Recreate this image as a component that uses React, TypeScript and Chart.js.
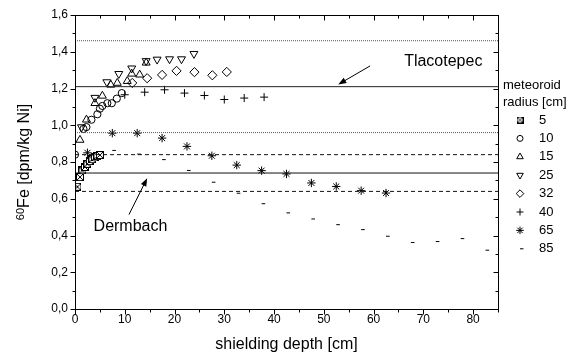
import React, { useEffect, useRef } from 'react';
import { Chart, registerables } from 'chart.js';
import { drawPoint } from 'chart.js/helpers';

Chart.register(...registerables);

// ---- data ----
const depth5 = [0.5, 1, 1.5, 2, 2.5, 3, 3.5, 4, 4.5, 5];
const fe5 = [0.665, 0.718, 0.754, 0.773, 0.79, 0.805, 0.815, 0.825, 0.832, 0.838];

const depth10 = [0, 1.7, 2.3, 3.3, 4.5, 5, 5.5, 6.5, 7.4, 8.4, 9.4];
const fe10 = [0.84, 0.98, 0.99, 1.03, 1.06, 1.09, 1.105, 1.12, 1.12, 1.145, 1.175];

const depth15 = [1, 2.3, 4, 5.5, 7.2, 8.5, 10.5, 11.4, 13, 14.3];
const fe15 = [0.92, 1.03, 1.12, 1.16, 1.22, 1.23, 1.24, 1.28, 1.275, 1.34];

const depth25 = [1.3, 4, 6.4, 8.8, 11.4, 14.3, 16.5, 19, 21.4, 23.9];
const fe25 = [0.99, 1.15, 1.235, 1.28, 1.31, 1.35, 1.358, 1.36, 1.36, 1.389];

const depth32 = [11.5, 14.5, 17.5, 20.4, 24, 27.6, 30.5];
const fe32 = [1.23, 1.256, 1.274, 1.296, 1.289, 1.272, 1.29];

const depth40 = [10, 14, 18, 22, 26, 30, 34, 38];
const fe40 = [1.166, 1.18, 1.193, 1.175, 1.162, 1.14, 1.148, 1.153];

const depth65 = [2.5, 7.5, 12.5, 17.5, 22.5, 27.5, 32.5, 37.5, 42.5, 47.5, 52.5, 57.5, 62.5];
const fe65 = [0.85, 0.957, 0.957, 0.93, 0.885, 0.834, 0.783, 0.753, 0.735, 0.686, 0.667, 0.644, 0.631];

const depth85 = [7.5, 12.5, 17.5, 22.5, 27.5, 32.5, 37.5, 42.5, 47.5, 52.5, 57.5, 62.5, 67.5, 72.5, 77.5, 82.5];
const fe85 = [0.863, 0.843, 0.813, 0.754, 0.69, 0.63, 0.573, 0.523, 0.49, 0.459, 0.432, 0.396, 0.362, 0.367, 0.383, 0.32];

const radiusLabels = ['5', '10', '15', '25', '32', '40', '65', '85'];

// measured meteorite values: [upper, mean, lower]
const tlacotepec = [1.46, 1.21, 0.96];
const dermbach = [0.84, 0.74, 0.64];

const xLimits = [0, 85];
const yLimits = [0, 1.6];

const FONT = '"Liberation Sans", Arial, Helvetica, sans-serif';

function makeBoxX(size: number): HTMLCanvasElement {
  const c = document.createElement('canvas');
  c.width = size;
  c.height = size;
  const g = c.getContext('2d')!;
  g.fillStyle = '#fff';
  g.fillRect(0, 0, size, size);
  g.strokeStyle = '#000';
  g.lineWidth = 1;
  g.strokeRect(0.5, 0.5, size - 1, size - 1);
  g.beginPath();
  g.moveTo(1, 1);
  g.lineTo(size - 1, size - 1);
  g.moveTo(size - 1, 1);
  g.lineTo(1, size - 1);
  g.stroke();
  return c;
}

export default function App() {
  const ref = useRef<HTMLCanvasElement | null>(null);

  useEffect(() => {
    document.body.style.margin = '0';
    const canvas = ref.current!;
    const boxX = makeBoxX(8);
    const boxXSmall = makeBoxX(7);

    const xs = [depth5, depth10, depth15, depth25, depth32, depth40, depth65, depth85];
    const ys = [fe5, fe10, fe15, fe25, fe32, fe40, fe65, fe85];
    const styles: any[] = [
      { pointStyle: boxX, radius: 4, rotation: 0, legendStyle: boxXSmall, legendRadius: 3.5 },
      { pointStyle: 'circle', radius: 3.6, rotation: 0, legendRadius: 3 },
      { pointStyle: 'triangle', radius: 4.6, rotation: 0, legendRadius: 3.8 },
      { pointStyle: 'triangle', radius: 4.6, rotation: 180, legendRadius: 3.8 },
      { pointStyle: 'rectRot', radius: 4.6, rotation: 0, legendRadius: 3.8 },
      { pointStyle: 'cross', radius: 4, rotation: 0, legendRadius: 3.5 },
      { pointStyle: 'star', radius: 4.2, rotation: 0, legendRadius: 3.8 },
      { pointStyle: 'dash', radius: 3.6, rotation: 0, legendRadius: 3.5 },
    ];

    const hLine = (v: number, dash: number[], color: string) => ({
      type: 'line' as const,
      data: [
        { x: xLimits[0], y: v },
        { x: xLimits[1], y: v },
      ],
      borderColor: color,
      borderWidth: 1,
      borderDash: dash,
      pointRadius: 0,
      fill: false,
    });

    const lineSets = [
      hLine(tlacotepec[0], [1, 1], '#555'),
      hLine(tlacotepec[1], [], '#222'),
      hLine(tlacotepec[2], [1, 1], '#555'),
      hLine(dermbach[0], [4, 3], '#111'),
      hLine(dermbach[1], [], '#111'),
      hLine(dermbach[2], [4, 3], '#111'),
    ];

    const scatterSets = xs.map((xArr, i) => ({
      type: 'scatter' as const,
      label: radiusLabels[i],
      data: xArr.map((x, j) => ({ x, y: ys[i][j] })),
      pointStyle: styles[i].pointStyle,
      pointRadius: styles[i].radius,
      pointRotation: styles[i].rotation,
      pointBorderColor: '#000',
      pointBackgroundColor: 'rgba(0,0,0,0)',
      pointBorderWidth: 1,
      showLine: false,
    }));

    const framePlugin = {
      id: 'frameAndDecor',
      afterDraw(chart: any) {
        const ctx = chart.ctx as CanvasRenderingContext2D;
        const a = chart.chartArea;
        const sx = chart.scales.x;
        const sy = chart.scales.y;
        ctx.save();
        ctx.strokeStyle = '#000';
        ctx.lineWidth = 1;
        const L = Math.round(a.left) + 0.5;
        const R = Math.round(a.right) + 0.5;
        const T = Math.round(a.top) + 0.5;
        const B = Math.round(a.bottom) + 0.5;
        ctx.strokeRect(L, T, R - L, B - T);
        ctx.beginPath();
        for (let v = 0; v <= 85; v += 5) {
          const px = Math.round(sx.getPixelForValue(v)) + 0.5;
          const major = v % 10 === 0;
          const len = major ? 5 : 3;
          ctx.moveTo(px, B);
          ctx.lineTo(px, B + len);
          ctx.moveTo(px, T);
          ctx.lineTo(px, T + len);
        }
        for (let k = 0; k <= 16; k++) {
          const v = k / 10;
          const py = Math.round(sy.getPixelForValue(v)) + 0.5;
          const major = k % 2 === 0;
          const len = major ? 5 : 3;
          ctx.moveTo(L, py);
          ctx.lineTo(L - len, py);
          ctx.moveTo(R, py);
          ctx.lineTo(R - len, py);
        }
        ctx.stroke();

        // axis titles
        ctx.fillStyle = '#000';
        ctx.font = `16px ${FONT}`;
        ctx.textAlign = 'center';
        ctx.textBaseline = 'middle';
        ctx.fillText('shielding depth [cm]', (a.left + a.right) / 2, 345);

        ctx.save();
        ctx.translate(25, (a.top + a.bottom) / 2);
        ctx.rotate(-Math.PI / 2);
        ctx.font = `11px ${FONT}`;
        const supW = ctx.measureText('60').width;
        ctx.font = `16px ${FONT}`;
        const mainW = ctx.measureText('Fe [dpm/kg Ni]').width;
        const start = -(supW + mainW) / 2;
        ctx.textAlign = 'left';
        ctx.font = `11px ${FONT}`;
        ctx.fillText('60', start, -4);
        ctx.font = `16px ${FONT}`;
        ctx.fillText('Fe [dpm/kg Ni]', start + supW, 0);
        ctx.restore();

        // annotations
        const arrow = (x0: number, y0: number, x1: number, y1: number) => {
          const p0x = sx.getPixelForValue(x0);
          const p0y = sy.getPixelForValue(y0);
          const p1x = sx.getPixelForValue(x1);
          const p1y = sy.getPixelForValue(y1);
          const ang = Math.atan2(p1y - p0y, p1x - p0x);
          const hl = 8;
          const hw = 3;
          ctx.beginPath();
          ctx.moveTo(p0x, p0y);
          ctx.lineTo(p1x - Math.cos(ang) * hl * 0.8, p1y - Math.sin(ang) * hl * 0.8);
          ctx.stroke();
          ctx.beginPath();
          ctx.moveTo(p1x, p1y);
          ctx.lineTo(
            p1x - Math.cos(ang) * hl + Math.sin(ang) * hw,
            p1y - Math.sin(ang) * hl - Math.cos(ang) * hw
          );
          ctx.lineTo(
            p1x - Math.cos(ang) * hl - Math.sin(ang) * hw,
            p1y - Math.sin(ang) * hl + Math.cos(ang) * hw
          );
          ctx.closePath();
          ctx.fill();
        };
        ctx.font = `16px ${FONT}`;
        ctx.textAlign = 'center';
        ctx.fillText('Tlacotepec', sx.getPixelForValue(74), sy.getPixelForValue(1.345));
        ctx.fillText('Dermbach', sx.getPixelForValue(11.15), sy.getPixelForValue(0.448));
        arrow(59.3, 1.323, 52.9, 1.222);
        arrow(10.85, 0.514, 14.5, 0.712);

        // legend
        ctx.font = `13px ${FONT}`;
        ctx.textAlign = 'left';
        ctx.fillText('meteoroid', 503, 85);
        ctx.fillText('radius [cm]', 503, 102);
        radiusLabels.forEach((lab, i) => {
          const y = 120 + i * 18.4;
          ctx.strokeStyle = '#000';
          ctx.fillStyle = 'rgba(0,0,0,0)';
          ctx.lineWidth = 1;
          drawPoint(
            ctx,
            {
              pointStyle: styles[i].legendStyle || styles[i].pointStyle,
              radius: styles[i].legendRadius,
              rotation: styles[i].rotation,
              borderWidth: 1,
            } as any,
            520,
            y
          );
          ctx.fillStyle = '#000';
          ctx.fillText(lab, 539, y);
        });
        ctx.restore();
      },
    };

    const chart = new Chart(canvas, {
      type: 'scatter',
      data: { datasets: [...lineSets, ...scatterSets] as any },
      options: {
        responsive: false,
        animation: false,
        layout: { padding: { top: 15, right: 80, left: 0, bottom: 0 } },
        plugins: { legend: { display: false }, tooltip: { enabled: false } },
        scales: {
          x: {
            type: 'linear',
            min: xLimits[0],
            max: xLimits[1],
            afterFit: (s: any) => {
              s.height = 49;
            },
            grid: { display: false, drawTicks: false },
            border: { display: false },
            ticks: {
              stepSize: 10,
              includeBounds: false,
              padding: 3,
              color: '#000',
              font: { family: FONT, size: 12 },
              maxRotation: 0,
              callback: (v: any) => (Number(v) % 10 === 0 ? String(v) : ''),
            },
          },
          y: {
            type: 'linear',
            min: yLimits[0],
            max: yLimits[1],
            afterFit: (s: any) => {
              s.width = 75;
            },
            grid: { display: false, drawTicks: false },
            border: { display: false },
            ticks: {
              stepSize: 0.2,
              padding: 7,
              color: '#000',
              font: { family: FONT, size: 12 },
              callback: (v: any) => Number(v).toFixed(1).replace('.', ','),
            },
          },
        },
      },
      plugins: [framePlugin],
    });
    return () => chart.destroy();
  }, []);

  return (
    <div style={{ position: 'absolute', left: 0, top: 0, width: 578, height: 358, background: '#fff' }}>
      <canvas ref={ref} width={578} height={358} />
    </div>
  );
}
